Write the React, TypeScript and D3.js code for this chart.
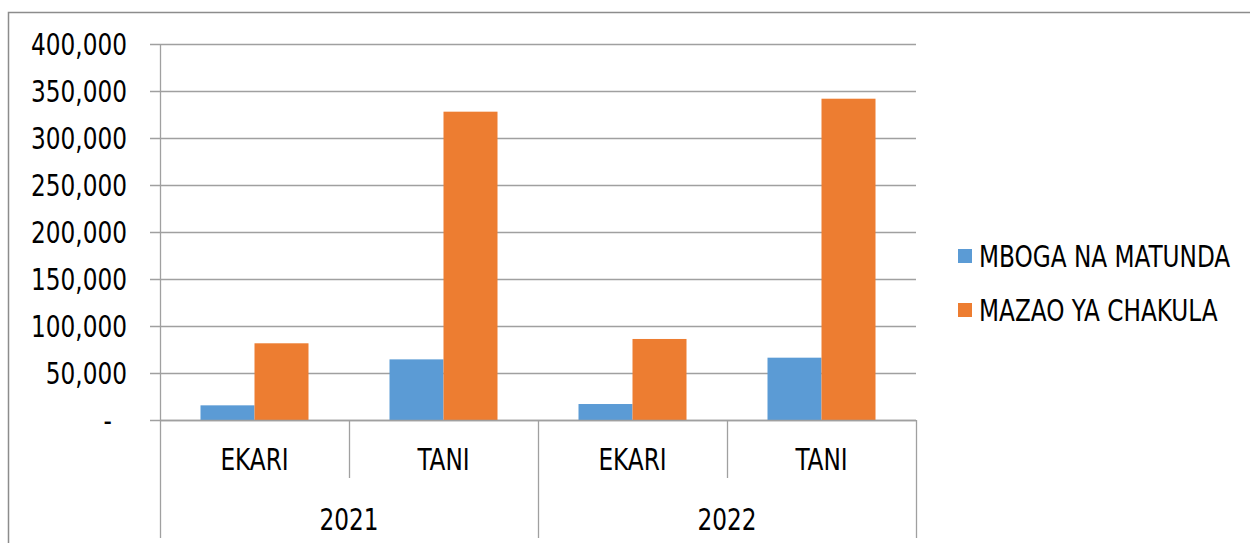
import React, { useEffect, useRef } from 'react';
import * as d3 from 'd3';

const years = ['2021', '2022'];
const units = ['EKARI', 'TANI'];
const seriesNames = ['MBOGA NA MATUNDA', 'MAZAO YA CHAKULA'];
const mbogaValues = [15600, 64500, 17000, 66300];
const mazaoValues = [81600, 328000, 86200, 341800];
const yTicks = [0, 50000, 100000, 150000, 200000, 250000, 300000, 350000, 400000];

const colors = ['#5B9BD5', '#ED7D31'];
const W = 1250;
const H = 543;
const FONT = '"DejaVu Sans Condensed", "DejaVu Sans", sans-serif';

const App: React.FC = () => {
  const svgRef = useRef<SVGSVGElement>(null);

  useEffect(() => {
    if (!svgRef.current) return;
    const svg = d3.select(svgRef.current);
    svg.selectAll('*').remove();

    const gridColor = '#a0a0a0';
    const left = 160, right = 916, top = 44, bottom = 420;

    // narrow-ish text: condensed font squeezed a bit more horizontally
    const addText = (x: number, y: number, str: string, anchor: string) =>
      svg.append('text')
        .attr('transform', `translate(${x},${y}) scale(0.86,1)`)
        .attr('text-anchor', anchor)
        .attr('font-family', FONT)
        .attr('font-size', 30)
        .attr('fill', '#000')
        .text(str);

    // outer chart border
    svg.append('path')
      .attr('d', `M8.5,${H} V12.5 H${W}`)
      .attr('fill', 'none')
      .attr('stroke', '#8c8c8c')
      .attr('stroke-width', 1.5);

    const cats = years.flatMap(y => units.map(u => `${y}|${u}`));
    const x0 = d3.scaleBand().domain(cats).range([left, right]).paddingInner(0).paddingOuter(0);
    // bar width = bandwidth / (2 + 1.5) with 150% gap
    const bw = x0.bandwidth() / 3.5;
    const yScale = d3.scaleLinear().domain([0, 400000]).range([bottom, top]);

    // gridlines + tick labels
    yTicks.forEach(t => {
      svg.append('line')
        .attr('x1', 150).attr('x2', right)
        .attr('y1', yScale(t) + 0.5).attr('y2', yScale(t) + 0.5)
        .attr('stroke', gridColor).attr('stroke-width', 1.3);
      addText(t === 0 ? 112 : 127, yScale(t) + 11, t === 0 ? '-' : d3.format(',')(t), 'end');
    });

    // bars
    const series = [mbogaValues, mazaoValues];
    series.forEach((vals, si) => {
      vals.forEach((v, ci) => {
        const cx = (x0(cats[ci]) as number) + x0.bandwidth() / 2;
        const bx = cx - bw + si * bw;
        svg.append('rect')
          .attr('x', bx)
          .attr('y', yScale(v))
          .attr('width', bw)
          .attr('height', bottom - yScale(v))
          .attr('fill', colors[si]);
      });
    });

    // axes lines
    svg.append('line')
      .attr('x1', left + 0.5).attr('x2', left + 0.5)
      .attr('y1', top).attr('y2', 538)
      .attr('stroke', gridColor).attr('stroke-width', 1.3);
    svg.append('line')
      .attr('x1', left).attr('x2', right)
      .attr('y1', bottom + 0.5).attr('y2', bottom + 0.5)
      .attr('stroke', gridColor).attr('stroke-width', 1.3);

    // category dividers and labels
    cats.forEach((c, i) => {
      const cx0 = x0(c) as number;
      if (i > 0) {
        const isYearEdge = i % units.length === 0;
        svg.append('line')
          .attr('x1', cx0 + 0.5).attr('x2', cx0 + 0.5)
          .attr('y1', bottom).attr('y2', isYearEdge ? 538 : 478)
          .attr('stroke', gridColor).attr('stroke-width', 1.3);
      }
      addText(cx0 + x0.bandwidth() / 2, 470, c.split('|')[1], 'middle');
    });
    svg.append('line')
      .attr('x1', right + 0.5).attr('x2', right + 0.5)
      .attr('y1', bottom).attr('y2', 538)
      .attr('stroke', gridColor).attr('stroke-width', 1.3);

    years.forEach(y => {
      const start = x0(`${y}|${units[0]}`) as number;
      const mid = start + (x0.bandwidth() * units.length) / 2;
      addText(mid, 530, y, 'middle');
    });

    // legend
    seriesNames.forEach((name, i) => {
      const ly = 256 + i * 54;
      svg.append('rect')
        .attr('x', 958).attr('y', ly - 7)
        .attr('width', 14).attr('height', 14)
        .attr('fill', colors[i]);
      addText(979, ly + 11, name, 'start');
    });
  }, []);

  return (
    <svg
      ref={svgRef}
      width={W}
      height={H}
      style={{ position: 'absolute', left: 0, top: 0, background: '#fff' }}
    />
  );
};

export default App;
